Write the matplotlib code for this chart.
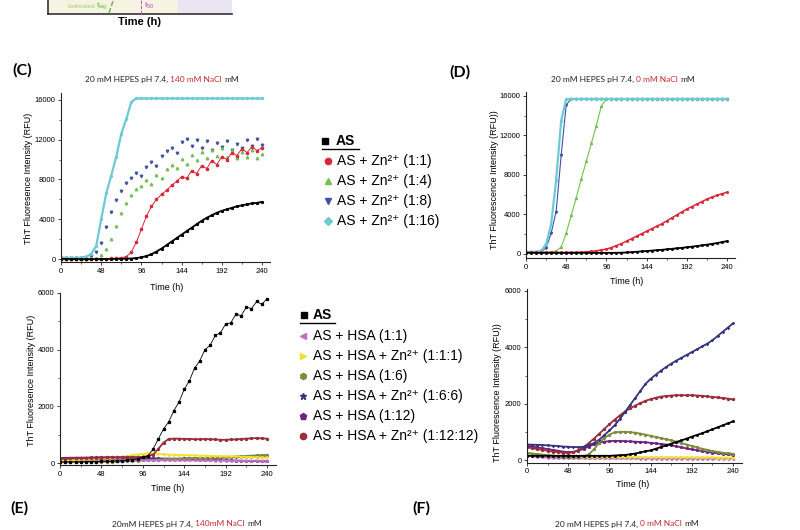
import numpy as np
import matplotlib
matplotlib.use("Agg")
import matplotlib.pyplot as plt
from matplotlib.ticker import MultipleLocator

plt.rcParams['font.family'] = ['Liberation Sans', 'DejaVu Sans']
plt.rcParams['mathtext.fontset'] = 'custom'
plt.rcParams['mathtext.rm'] = 'Liberation Sans'
plt.rcParams['mathtext.it'] = 'Liberation Sans:italic'
plt.rcParams['mathtext.bf'] = 'Liberation Sans:bold'

# ---------------- data ----------------
T = np.arange(0, 241, 6)  # time (h)

# (C) 140 mM NaCl, AS + Zn
c_as = [20, 10, 0, -10, -20, -20, -20, -10, 0, 0, 10, 10, 20, 30, 50, 100, 170, 300, 480, 750,
        1050, 1400, 1750, 2100, 2450, 2800, 3150, 3500, 3850, 4150, 4400, 4650, 4850, 5000, 5150,
        5300, 5400, 5500, 5600, 5650, 5750]
c_zn1 = [50, 40, 30, 20, 20, 20, 30, 30, 40, 50, 60, 80, 120, 250, 700, 1700, 3000, 4300, 5300, 6000,
         6500, 6900, 7400, 7800, 8300, 8100, 8900, 8600, 9400, 9100, 9900, 9500, 10300, 10000, 10700,
         10400, 11100, 10700, 11300, 10900, 11200]
c_zn4 = [-30, -30, -20, -10, 0, 20, 60, 150, 400, 1000, 2000, 3300, 4600, 5600, 6400, 7000, 7300, 7900,
         7500, 8500, 8200, 9100, 9500, 9200, 10100, 9600, 10500, 10000, 10800, 10200, 11000, 10400,
         11200, 10300, 11000, 10200, 10800, 10300, 11000, 10200, 10600]
c_zn8 = [100, 80, 70, 80, 100, 150, 300, 700, 1600, 3200, 4700, 5900, 6800, 7600, 8100, 8700, 8400,
         9300, 9800, 9400, 10400, 10900, 11200, 10700, 11800, 12100, 11400, 12000, 11200, 11900, 11000,
         11700, 11300, 11900, 11000, 11600, 11200, 12000, 11400, 12100, 11500]
c_zn16 = [150, 130, 120, 130, 150, 250, 500, 1300, 4000, 6600, 8400, 10300, 12600, 14100, 15800,
          16150, 16150, 16150, 16150, 16150, 16150, 16150, 16150, 16150, 16150, 16150, 16150, 16150,
          16150, 16150, 16150, 16150, 16150, 16150, 16150, 16150, 16150, 16150, 16150, 16150, 16150]

# (D) 0 mM NaCl, AS + Zn
d_as = [120, 120, 110, 110, 110, 110, 110, 110, 110, 110, 110, 110, 110, 110, 110, 110, 110, 115, 120,
        130, 150, 180, 220, 260, 300, 340, 380, 420, 470, 520, 570, 620, 680, 740, 800, 870, 940, 1020,
        1100, 1200, 1300]
d_zn1 = [150, 150, 150, 150, 150, 150, 150, 150, 150, 155, 160, 180, 210, 260, 320, 400, 500, 650, 850,
         1050, 1300, 1550, 1800, 2050, 2300, 2550, 2800, 3050, 3350, 3650, 3950, 4250, 4550, 4800, 5050,
         5300, 5550, 5750, 5950, 6100, 6250]
d_zn4 = [200, 200, 200, 200, 200, 220, 300, 700, 2100, 3900, 5700, 7600, 9400, 11200, 13000, 15000,
         15700, 15700, 15700, 15700, 15700, 15700, 15700, 15700, 15700, 15700, 15700, 15700, 15700,
         15700, 15700, 15700, 15700, 15700, 15700, 15700, 15700, 15700, 15700, 15700, 15700]
d_zn8 = [150, 150, 170, 250, 600, 2100, 4300, 10000, 15100, 15700, 15700, 15700, 15700, 15700, 15700,
         15700, 15700, 15700, 15700, 15700, 15700, 15700, 15700, 15700, 15700, 15700, 15700, 15700,
         15700, 15700, 15700, 15700, 15700, 15700, 15700, 15700, 15700, 15700, 15700, 15700, 15700]
d_zn16 = [200, 200, 220, 300, 1000, 3000, 7500, 13500, 15700, 15700, 15700, 15700, 15700, 15700,
          15700, 15700, 15700, 15700, 15700, 15700, 15700, 15700, 15700, 15700, 15700, 15700, 15700,
          15700, 15700, 15700, 15700, 15700, 15700, 15700, 15700, 15700, 15700, 15700, 15700, 15700, 15700]

# (C lower) 140 mM NaCl, AS + HSA (+Zn)
cb_as = [40, 40, 40, 40, 40, 45, 50, 50, 55, 60, 60, 70, 80, 100, 120, 150, 200, 250, 500, 850,
         1200, 1450, 1850, 2150, 2600, 2900, 3350, 3600, 4000, 4150, 4500, 4600, 4900, 4950, 5250,
         5200, 5500, 5450, 5700, 5600, 5800]
cb_hsa1 = [120, 118, 116, 114, 112, 110, 108, 106, 104, 102, 100, 100, 98, 98, 96, 96, 95, 95, 94, 94,
           93, 93, 92, 92, 91, 91, 90, 90, 89, 89, 88, 88, 87, 87, 86, 86, 85, 85, 84, 84, 83]
cb_hsa1_zn = [80, 90, 100, 110, 120, 130, 140, 150, 160, 170, 180, 200, 220, 240, 270, 300, 320, 340,
              330, 320, 310, 300, 290, 280, 280, 270, 270, 260, 260, 250, 250, 240, 240, 230, 230, 220,
              220, 210, 210, 200, 200]
cb_hsa6 = [30, 30, 30, 35, 35, 40, 40, 45, 45, 50, 50, 55, 60, 65, 70, 80, 90, 100, 110, 120, 130, 135,
           140, 145, 150, 160, 165, 170, 180, 190, 200, 205, 210, 220, 230, 240, 250, 260, 270, 280, 290]
cb_hsa6_zn = [100, 100, 105, 105, 110, 110, 115, 115, 120, 120, 125, 125, 130, 130, 135, 135, 140, 140,
              145, 145, 150, 150, 155, 155, 160, 160, 165, 170, 175, 180, 185, 190, 195, 200, 205, 210,
              215, 220, 225, 230, 235]
cb_hsa12 = [180, 182, 185, 188, 190, 192, 195, 198, 200, 200, 200, 198, 196, 194, 192, 190, 185, 175,
            165, 160, 155, 150, 145, 140, 135, 130, 125, 120, 115, 110, 105, 100, 95, 90, 85, 80, 75, 70,
            65, 60, 55]
cb_hsa12_zn = [150, 155, 160, 165, 170, 175, 180, 185, 190, 195, 200, 205, 210, 210, 210, 210, 215, 250,
               300, 500, 720, 850, 860, 860, 850, 850, 840, 840, 850, 840, 830, 820, 820, 830, 830, 850,
               860, 870, 880, 870, 860]

# (D lower) 0 mM NaCl, AS + HSA (+Zn)
db_as = [150, 150, 150, 150, 150, 150, 150, 150, 150, 150, 150, 150, 150, 150, 150, 150, 150, 160, 170,
         180, 200, 230, 270, 310, 340, 400, 460, 520, 580, 640, 700, 760, 830, 890, 950, 1020, 1090, 1160,
         1230, 1300, 1370]
db_hsa1 = [150, 130, 110, 95, 85, 75, 70, 65, 60, 60, 60, 60, 58, 58, 56, 56, 55, 55, 55, 55, 55, 55, 54,
           54, 54, 53, 53, 53, 52, 52, 52, 52, 51, 51, 51, 50, 50, 50, 50, 50, 50]
db_hsa1_zn = [250, 230, 210, 190, 175, 160, 150, 140, 130, 125, 120, 118, 116, 114, 112, 110, 110, 108,
              106, 105, 104, 103, 102, 101, 100, 100, 99, 98, 97, 96, 95, 94, 93, 92, 91, 90, 90, 89, 88,
              87, 86]
db_hsa6 = [250, 230, 210, 190, 170, 150, 130, 120, 110, 110, 120, 130, 200, 380, 600, 780, 900, 980,
           1000, 1000, 990, 970, 940, 900, 860, 820, 780, 740, 700, 650, 600, 550, 500, 450, 400, 360,
           320, 290, 260, 240, 220]
db_hsa6_zn = [550, 545, 540, 530, 520, 510, 495, 480, 470, 460, 455, 470, 520, 600, 720, 880, 1050,
              1230, 1450, 1700, 1950, 2200, 2450, 2700, 2880, 3030, 3170, 3300, 3420, 3530, 3630, 3730,
              3830, 3930, 4030, 4130, 4250, 4400, 4550, 4700, 4850]
db_hsa12 = [500, 480, 450, 420, 390, 360, 330, 300, 280, 290, 330, 400, 480, 560, 620, 650, 670, 680,
            680, 670, 660, 650, 640, 630, 610, 590, 570, 550, 520, 490, 450, 410, 380, 350, 320, 290, 260,
            240, 220, 200, 190]
db_hsa12_zn = [450, 420, 390, 360, 330, 300, 280, 260, 250, 280, 350, 460, 600, 760, 930, 1100, 1270,
               1430, 1580, 1720, 1830, 1930, 2020, 2100, 2160, 2210, 2250, 2270, 2290, 2300, 2300, 2300,
               2300, 2290, 2280, 2260, 2240, 2220, 2200, 2180, 2150]

x_ticks = [0, 48, 96, 144, 192, 240]
top_yticks = [0, 4000, 8000, 12000, 16000]
bot_yticks = [0, 2000, 4000, 6000]

zn_labels = ["AS + Zn²⁺ (1:1)", "AS + Zn²⁺ (1:4)", "AS + Zn²⁺ (1:8)", "AS + Zn²⁺ (1:16)"]
hsa_labels = ["AS + HSA (1:1)", "AS + HSA + Zn²⁺ (1:1:1)", "AS + HSA (1:6)",
              "AS + HSA + Zn²⁺ (1:6:6)", "AS + HSA (1:12)", "AS + HSA + Zn²⁺ (1:12:12)"]

# colours / markers
C_AS = 'black'
C_ZN = ['#d8283a', '#72c050', '#3f52a4', '#6ccad4']
M_ZN = ['o', '^', 'v', 'D']
C_HSA = ['#c070c0', '#f0e030', '#7d8c3c', '#34347e', '#6e2280', '#982e3c']
M_HSA = ['<', '>', 'h', '*', 'p', 'o']

# ---------------- figure ----------------
W, H = 800, 530
fig = plt.figure(figsize=(8, 5.3), dpi=100)


def rect(l, t, r, b):
    return [l / W, 1 - b / H, (r - l) / W, (b - t) / H]


def style(ax, xlim, ylim, yticks, yminor):
    ax.set_xlim(*xlim)
    ax.set_ylim(*ylim)
    ax.set_xticks(x_ticks)
    ax.xaxis.set_minor_locator(MultipleLocator(24))
    ax.set_yticks(yticks)
    ax.yaxis.set_minor_locator(MultipleLocator(yminor))
    for s in ['top', 'right']:
        ax.spines[s].set_visible(False)
    for s in ['left', 'bottom']:
        ax.spines[s].set_linewidth(0.8)
        ax.spines[s].set_color('#222222')
    ax.tick_params(which='major', direction='out', length=2.5, width=0.6, labelsize=5.5, pad=1.5,
                   color='#222222')
    ax.tick_params(which='minor', direction='out', length=1.5, width=0.5, color='#222222')
    ax.set_facecolor('none')


def labels(ax, ylabel, ylab_xy, xlab_xy):
    ax.set_ylabel(ylabel, fontsize=6.5)
    ax.yaxis.set_label_coords(ylab_xy[0] / W, 1 - ylab_xy[1] / H, transform=fig.transFigure)
    ax.set_xlabel('Time (h)', fontsize=6.5)
    ax.xaxis.set_label_coords(xlab_xy[0] / W, 1 - xlab_xy[1] / H, transform=fig.transFigure)


# fragment of the previous panel at the very top
fa = fig.add_axes(rect(48, -30, 232, 14))
fa.set_xlim(0, 1)
fa.set_ylim(0, 1)
fa.axvspan(0, (178 - 48) / 184, color='#f7f3e2', lw=0)
fa.axvspan((178 - 48) / 184, 1, color='#e9e5f3', lw=0)
fa.set_xticks([])
fa.set_yticks([])
for s in ['top', 'right']:
    fa.spines[s].set_visible(False)
for s in ['left', 'bottom']:
    fa.spines[s].set_linewidth(1.2)
    fa.spines[s].set_color('#333333')

# ---- (C) upper ----
axCt = fig.add_axes(rect(61, 93, 61 + 0.8375 * 250, 262))
style(axCt, (0, 250), (-300, 16700), top_yticks, 2000)
axCt.plot(T, c_zn8, color=C_ZN[2], lw=0, marker='v', ms=1.8)
axCt.plot(T, c_zn4, color=C_ZN[1], lw=0, marker='^', ms=1.8)
axCt.plot(T, c_zn1, color=C_ZN[0], lw=0.7, marker='o', ms=1.6)
axCt.plot(T, c_zn16, color=C_ZN[3], lw=1.6, marker='D', ms=1.2)
axCt.plot(T, c_as, color=C_AS, lw=1.3, marker='s', ms=1.2)
labels(axCt, 'ThT Fluoresence Intensity (RFU)', (33, 178), (167, 283))

# ---- (C) lower ----
axCb = fig.add_axes(rect(60, 292.7, 60 + 0.8625 * 251, 465))
style(axCb, (0, 251), (-70, 6010), bot_yticks, 1000)
for ys, c, m in zip([cb_hsa12, cb_hsa6_zn, cb_hsa6, cb_hsa1, cb_hsa1_zn, cb_hsa12_zn],
                    [C_HSA[4], C_HSA[3], C_HSA[2], C_HSA[0], C_HSA[1], C_HSA[5]],
                    [M_HSA[4], M_HSA[3], M_HSA[2], M_HSA[0], M_HSA[1], M_HSA[5]]):
    axCb.plot(T, ys, color=c, lw=1.3, marker=m, ms=1.4)
axCb.plot(T, cb_as, color=C_AS, lw=0.6, marker='s', ms=1.4)
labels(axCb, 'ThT Fluoresence Intensity (RFU)', (36, 380), (168, 484))

# ---- (D) upper ----
axDt = fig.add_axes(rect(526, 91.7, 526 + 0.8375 * 250, 258.4))
style(axDt, (0, 250), (-450, 16435), top_yticks, 2000)
axDt.plot(T, d_zn4, color=C_ZN[1], lw=0.8, marker='^', ms=1.5)
axDt.plot(T, d_zn8, color=C_ZN[2], lw=0.8, marker='v', ms=1.5)
axDt.plot(T, d_zn16, color=C_ZN[3], lw=1.6, marker='D', ms=1.2)
axDt.plot(T, d_zn1, color=C_ZN[0], lw=1.1, marker='o', ms=1.2)
axDt.plot(T, d_as, color=C_AS, lw=1.3, marker='s', ms=1.0)
labels(axDt, 'ThT Fluorescence Intensity (RFU))', (499, 180), (627, 277))

# ---- (D) lower ----
axDb = fig.add_axes(rect(527, 289.3, 527 + 0.8583 * 250, 462.7))
style(axDb, (0, 250), (-95, 6060), bot_yticks, 1000)
for ys, c, m in zip([db_hsa1, db_hsa1_zn, db_hsa12, db_hsa6, db_hsa12_zn, db_hsa6_zn],
                    [C_HSA[0], C_HSA[1], C_HSA[4], C_HSA[2], C_HSA[5], C_HSA[3]],
                    [M_HSA[0], M_HSA[1], M_HSA[4], M_HSA[2], M_HSA[5], M_HSA[3]]):
    axDb.plot(T, ys, color=c, lw=1.3, marker=m, ms=1.4)
axDb.plot(T, db_as, color=C_AS, lw=1.3, marker='s', ms=1.0)
labels(axDb, 'ThT Fluorescence Intensity (RFU))', (502, 393), (633, 480))

# ---------------- overlay (annotations in pixel space) ----------------
ov = fig.add_axes([0, 0, 1, 1])
ov.set_xlim(0, W)
ov.set_ylim(H, 0)
ov.axis('off')

# fragment annotations
ov.text(68, 6, 'Estimated', color='#98d46a', fontsize=4.5, va='center')
ov.text(96, 6, 't$_{\\mathrm{lag}}$', color='#62b83c', fontsize=5.5, va='center')
ov.plot([109, 113], [13, 1], color='#62b83c', lw=1.0, ls='--')
ov.plot([141, 141], [0, 14], color='#c050c0', lw=0.7, ls='--')
ov.text(143.5, 6, 't$_{50}$', color='#c040c0', fontsize=5.5, va='center')
ov.text(140, 22, 'Time (h)', fontsize=8, fontweight='bold', ha='center', va='center')

# panel letters
for lab, x, y in [('(C)', 12, 70), ('(D)', 449, 72), ('(E)', 10, 508), ('(F)', 412, 508)]:
    ov.text(x, y, lab, fontsize=11.5, fontweight='bold', family=['Lato', 'DejaVu Sans'],
            va='center', ha='left')

# multi-coloured titles
renderer = fig.canvas.get_renderer()
RED = '#c8262c'


def ctitle(xc, y, parts, size=6.0):
    fam = ['Lato', 'DejaVu Sans']
    probe1 = ov.text(0, 0, 'x x', fontsize=size, family=fam)
    probe2 = ov.text(0, 0, 'xx', fontsize=size, family=fam)
    sp = probe1.get_window_extent(renderer).width - probe2.get_window_extent(renderer).width
    probe1.remove()
    probe2.remove()
    txts = [ov.text(0, y, s, color=c, fontsize=size, family=fam, va='center', ha='left') for s, c in parts]
    ws = [t.get_window_extent(renderer).width for t in txts]
    total = sum(ws) + sp * (len(ws) - 1)
    x = xc - total / 2
    for t, w in zip(txts, ws):
        t.set_x(x)
        x += w + sp


ctitle(162, 79, [('20 mM HEPES pH 7.4,', '#222222'), ('140 mM NaCl', RED), ('mM', '#222222')])
ctitle(623, 79, [('20 mM HEPES pH 7.4,', '#222222'), ('0 mM NaCl', RED), ('mM', '#222222')])
ctitle(187, 524, [('20mM HEPES pH 7.4,', '#222222'), ('140mM NaCl', RED), ('mM', '#222222')])
ctitle(627, 524, [('20 mM HEPES pH 7.4,', '#222222'), ('0 mM NaCl', RED), ('mM', '#222222')])

# legend 1 (Zn series)
ov.plot([325], [141], marker='s', color='black', ms=4, ls='none')
ov.text(336, 141, 'AS', fontsize=10, fontweight='bold', va='center')
ov.plot([322, 359], [148.5, 148.5], color='black', lw=1.0)
for i, (lab, c, m) in enumerate(zip(zn_labels, C_ZN, M_ZN)):
    yy = 161 + 20 * i
    ov.plot([328], [yy], marker=m, color=c, ms=4.5, ls='none')
    ov.text(337, yy, lab, fontsize=10, va='center')

# legend 2 (HSA series)
ov.plot([304], [315], marker='s', color='black', ms=4, ls='none')
ov.text(313, 315, 'AS', fontsize=10, fontweight='bold', va='center')
ov.plot([300, 335], [322.5, 322.5], color='black', lw=1.0)
for i, (lab, c, m) in enumerate(zip(hsa_labels, C_HSA, M_HSA)):
    yy = 336 + 20 * i
    ov.plot([303], [yy], marker=m, color=c, ms=4.5, ls='none')
    ov.text(313, yy, lab, fontsize=10, va='center')

fig.savefig('out.png', dpi=100)
